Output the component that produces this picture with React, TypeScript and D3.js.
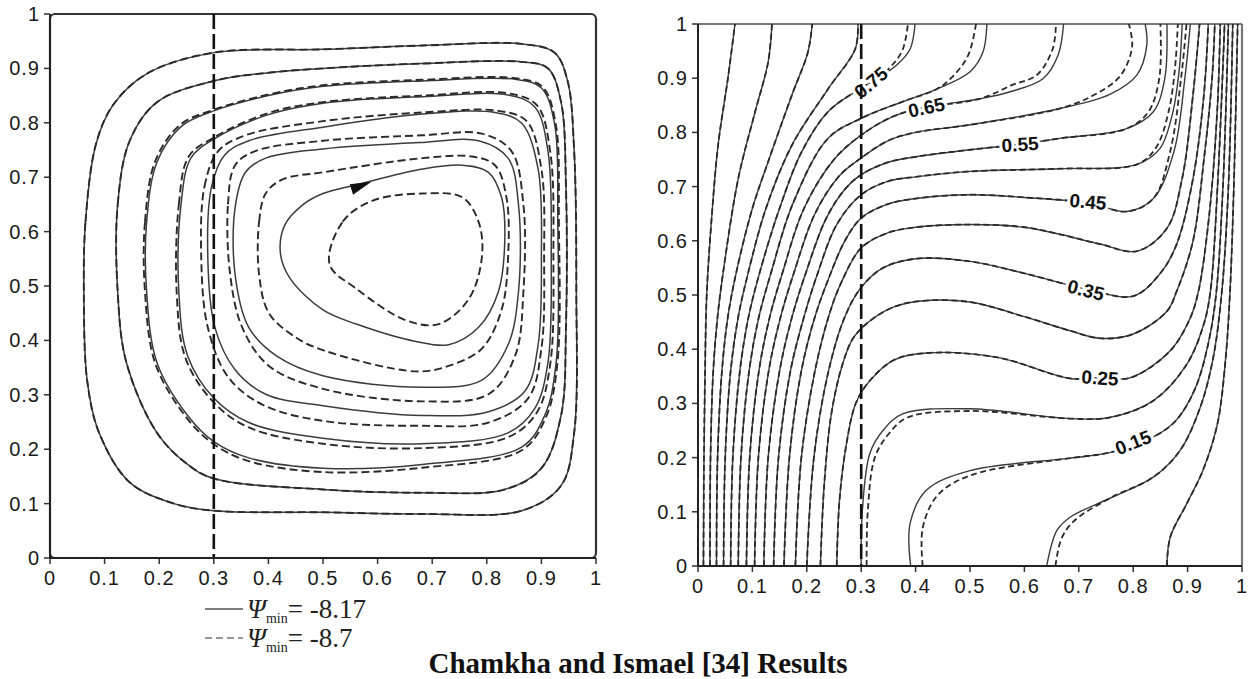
import React from 'react';
import * as d3 from 'd3';

type Pt = [number, number];

// ---------- left panel: streamlines (solid: Ψmin -8.17, dashed: Ψmin -8.7) ----------
const psi1: Pt[] = [[0.062,0.489],[0.065,0.618],[0.084,0.76],[0.115,0.832],[0.177,0.89],[0.3,0.929],[0.5,0.935],[0.682,0.942],[0.864,0.945],[0.924,0.929],[0.948,0.877],[0.96,0.748],[0.964,0.489],[0.96,0.23],[0.936,0.133],[0.864,0.087],[0.682,0.081],[0.5,0.084],[0.3,0.087],[0.227,0.1],[0.146,0.139],[0.09,0.23],[0.068,0.327]];
const psi2: Pt[] = [[0.124,0.489],[0.124,0.65],[0.146,0.767],[0.196,0.838],[0.3,0.877],[0.4,0.892],[0.5,0.9],[0.682,0.909],[0.864,0.912],[0.912,0.9],[0.936,0.838],[0.945,0.683],[0.945,0.424],[0.936,0.262],[0.9,0.165],[0.833,0.126],[0.682,0.12],[0.5,0.126],[0.3,0.146],[0.252,0.172],[0.196,0.23],[0.14,0.359]];
const psi3: Pt[] = [[0.177,0.489],[0.177,0.618],[0.196,0.728],[0.24,0.793],[0.3,0.822],[0.4,0.85],[0.5,0.867],[0.682,0.877],[0.852,0.88],[0.9,0.864],[0.924,0.799],[0.93,0.618],[0.927,0.359],[0.906,0.262],[0.864,0.204],[0.682,0.172],[0.5,0.165],[0.364,0.184],[0.3,0.214],[0.252,0.262],[0.196,0.359]];
const psi4: Pt[] = [[0.236,0.489],[0.24,0.65],[0.258,0.735],[0.3,0.77],[0.4,0.815],[0.5,0.836],[0.682,0.848],[0.839,0.851],[0.888,0.829],[0.912,0.748],[0.918,0.554],[0.912,0.359],[0.888,0.275],[0.839,0.23],[0.682,0.21],[0.5,0.22],[0.364,0.249],[0.3,0.294],[0.252,0.372]];
const psi5: Pt[] = [[0.289,0.553],[0.296,0.683],[0.32,0.741],[0.364,0.767],[0.5,0.792],[0.682,0.816],[0.815,0.819],[0.864,0.799],[0.894,0.715],[0.9,0.554],[0.894,0.392],[0.87,0.307],[0.803,0.269],[0.682,0.262],[0.5,0.28],[0.395,0.301],[0.339,0.346],[0.302,0.424]];
const psi6: Pt[] = [[0.339,0.521],[0.339,0.644],[0.358,0.709],[0.395,0.735],[0.5,0.752],[0.682,0.764],[0.785,0.767],[0.839,0.735],[0.858,0.65],[0.858,0.489],[0.839,0.392],[0.791,0.327],[0.682,0.314],[0.5,0.335],[0.414,0.372],[0.364,0.424]];
const psi7: Pt[] = [[0.422,0.56],[0.43,0.612],[0.464,0.65],[0.5,0.67],[0.561,0.686],[0.682,0.715],[0.755,0.722],[0.803,0.709],[0.827,0.663],[0.833,0.586],[0.821,0.489],[0.785,0.424],[0.73,0.392],[0.67,0.398],[0.561,0.43],[0.5,0.456],[0.439,0.515]];

const psi3d: Pt[] = [[0.174,0.489],[0.174,0.618],[0.193,0.73],[0.238,0.796],[0.3,0.824],[0.4,0.852],[0.5,0.869],[0.682,0.879],[0.852,0.882],[0.902,0.866],[0.926,0.799],[0.932,0.618],[0.929,0.355],[0.908,0.258],[0.864,0.198],[0.682,0.166],[0.5,0.158],[0.364,0.178],[0.3,0.209],[0.25,0.258],[0.193,0.357]];
const psi4d: Pt[] = [[0.232,0.489],[0.236,0.65],[0.254,0.738],[0.3,0.773],[0.4,0.818],[0.5,0.838],[0.682,0.85],[0.84,0.854],[0.892,0.832],[0.916,0.748],[0.922,0.554],[0.916,0.355],[0.892,0.268],[0.839,0.222],[0.682,0.202],[0.5,0.21],[0.364,0.24],[0.298,0.288],[0.248,0.368]];
const psi5d: Pt[] = [[0.277,0.553],[0.283,0.683],[0.308,0.748],[0.358,0.777],[0.5,0.803],[0.682,0.819],[0.821,0.822],[0.873,0.803],[0.9,0.715],[0.905,0.553],[0.9,0.385],[0.876,0.294],[0.803,0.249],[0.682,0.243],[0.5,0.252],[0.389,0.282],[0.326,0.333],[0.289,0.424]];
const psi6d: Pt[] = [[0.33,0.521],[0.326,0.65],[0.339,0.722],[0.376,0.748],[0.5,0.767],[0.682,0.777],[0.791,0.78],[0.845,0.748],[0.867,0.65],[0.867,0.489],[0.852,0.372],[0.803,0.301],[0.682,0.288],[0.5,0.311],[0.401,0.353],[0.352,0.424]];
const psi7d: Pt[] = [[0.383,0.521],[0.383,0.618],[0.395,0.67],[0.426,0.696],[0.5,0.709],[0.682,0.735],[0.773,0.738],[0.815,0.722],[0.836,0.663],[0.839,0.553],[0.827,0.456],[0.791,0.385],[0.73,0.353],[0.67,0.343],[0.5,0.382],[0.451,0.405],[0.401,0.45]];
const psi8d: Pt[] = [[0.512,0.54],[0.536,0.618],[0.591,0.657],[0.682,0.67],[0.755,0.663],[0.785,0.618],[0.791,0.553],[0.767,0.476],[0.712,0.43],[0.652,0.437],[0.561,0.495]];

const streamSolid = [psi1, psi2, psi3, psi4, psi5, psi6, psi7];
const streamDashed = [psi1, psi2, psi3d, psi4d, psi5d, psi6d, psi7d, psi8d];
const flowArrowAt: Pt = [0.549, 0.687];

// ---------- right panel: isotherms 0.95 ... 0.05 ----------
const t95: Pt[] = [[0.01,0],[0.011,0.2],[0.013,0.36],[0.016,0.5],[0.026,0.654],[0.037,0.777],[0.055,0.9],[0.068,1]];
const t90: Pt[] = [[0.022,0],[0.023,0.2],[0.028,0.36],[0.036,0.46],[0.046,0.54],[0.074,0.715],[0.105,0.838],[0.129,0.93],[0.136,1]];
const t85: Pt[] = [[0.034,0],[0.036,0.2],[0.044,0.36],[0.055,0.46],[0.07,0.54],[0.1,0.66],[0.129,0.746],[0.173,0.87],[0.202,0.948],[0.21,1]];
const t80: Pt[] = [[0.047,0],[0.05,0.2],[0.06,0.36],[0.074,0.46],[0.092,0.54],[0.125,0.66],[0.173,0.777],[0.239,0.88],[0.289,0.954],[0.294,1]];
const t75: Pt[] = [[0.06,0],[0.064,0.2],[0.077,0.36],[0.093,0.46],[0.113,0.54],[0.15,0.66],[0.191,0.765],[0.239,0.838],[0.289,0.875],[0.33,0.9],[0.366,0.925],[0.39,0.954],[0.399,1]];
const t70: Pt[] = [[0.074,0],[0.079,0.2],[0.094,0.36],[0.112,0.46],[0.134,0.54],[0.175,0.67],[0.239,0.789],[0.3,0.826],[0.377,0.857],[0.439,0.88],[0.5,0.912],[0.524,0.949],[0.531,1]];
const t65: Pt[] = [[0.089,0],[0.095,0.2],[0.112,0.36],[0.132,0.46],[0.155,0.54],[0.195,0.66],[0.25,0.75],[0.3,0.795],[0.36,0.83],[0.417,0.846],[0.518,0.862],[0.574,0.875],[0.634,0.899],[0.662,0.943],[0.672,1]];
const t60: Pt[] = [[0.104,0],[0.111,0.2],[0.13,0.36],[0.152,0.46],[0.176,0.54],[0.215,0.65],[0.26,0.72],[0.3,0.753],[0.35,0.785],[0.4,0.8],[0.5,0.814],[0.665,0.844],[0.757,0.87],[0.807,0.906],[0.825,0.961],[0.822,1]];
const t55: Pt[] = [[0.121,0],[0.129,0.2],[0.15,0.36],[0.173,0.46],[0.198,0.54],[0.235,0.64],[0.27,0.695],[0.3,0.722],[0.35,0.745],[0.4,0.755],[0.5,0.768],[0.592,0.778],[0.665,0.789],[0.788,0.807],[0.837,0.838],[0.858,0.899],[0.862,1]];
const t50: Pt[] = [[0.139,0],[0.148,0.2],[0.17,0.36],[0.195,0.46],[0.22,0.54],[0.255,0.63],[0.3,0.685],[0.35,0.71],[0.4,0.718],[0.5,0.728],[0.665,0.733],[0.807,0.741],[0.849,0.77],[0.873,0.838],[0.885,0.92],[0.89,1]];
const t45: Pt[] = [[0.158,0],[0.168,0.2],[0.19,0.36],[0.215,0.46],[0.24,0.53],[0.27,0.6],[0.3,0.642],[0.35,0.668],[0.4,0.678],[0.5,0.685],[0.6,0.68],[0.717,0.67],[0.788,0.654],[0.837,0.678],[0.875,0.765],[0.895,0.9],[0.905,1]];
const t40: Pt[] = [[0.179,0],[0.19,0.2],[0.215,0.36],[0.24,0.46],[0.262,0.52],[0.3,0.587],[0.35,0.615],[0.4,0.625],[0.5,0.63],[0.6,0.625],[0.665,0.612],[0.739,0.594],[0.807,0.581],[0.862,0.623],[0.89,0.715],[0.91,0.87],[0.922,1]];
const t35: Pt[] = [[0.2,0],[0.213,0.2],[0.24,0.36],[0.27,0.46],[0.3,0.514],[0.34,0.55],[0.4,0.567],[0.5,0.562],[0.6,0.54],[0.713,0.511],[0.8,0.498],[0.849,0.539],[0.88,0.594],[0.91,0.715],[0.93,0.87],[0.938,1]];
const t30: Pt[] = [[0.225,0],[0.232,0.15],[0.245,0.28],[0.265,0.37],[0.285,0.42],[0.316,0.452],[0.36,0.478],[0.41,0.489],[0.5,0.487],[0.6,0.46],[0.684,0.434],[0.74,0.42],[0.8,0.428],[0.862,0.47],[0.88,0.507],[0.91,0.6],[0.93,0.75],[0.945,0.9],[0.95,1]];
const t25: Pt[] = [[0.255,0],[0.26,0.12],[0.272,0.22],[0.29,0.3],[0.316,0.342],[0.36,0.38],[0.42,0.393],[0.55,0.385],[0.684,0.346],[0.739,0.347],[0.794,0.347],[0.868,0.397],[0.905,0.458],[0.92,0.507],[0.94,0.65],[0.955,0.85],[0.96,1]];
const t20: Pt[] = [[0.3,0],[0.302,0.1],[0.316,0.208],[0.34,0.25],[0.377,0.281],[0.5,0.29],[0.684,0.272],[0.757,0.274],[0.837,0.305],[0.899,0.373],[0.93,0.447],[0.942,0.507],[0.955,0.7],[0.968,1]];
const t15: Pt[] = [[0.391,0],[0.39,0.079],[0.42,0.14],[0.5,0.176],[0.684,0.199],[0.76,0.21],[0.844,0.242],[0.88,0.27],[0.915,0.33],[0.94,0.42],[0.953,0.507],[0.965,0.7],[0.975,1]];
const t10: Pt[] = [[0.641,0],[0.66,0.066],[0.684,0.09],[0.757,0.125],[0.837,0.164],[0.886,0.213],[0.923,0.292],[0.947,0.384],[0.963,0.507],[0.975,0.7],[0.983,1]];
const t05: Pt[] = [[0.862,0],[0.868,0.053],[0.899,0.116],[0.928,0.176],[0.955,0.263],[0.97,0.384],[0.978,0.507],[0.985,0.7],[0.992,1]];

// dashed case, where it parts from the solid one
const t75d: Pt[] = [...t75.slice(0, 10), [0.355,0.922],[0.376,0.952],[0.386,1]];
const t70d: Pt[] = [...t70.slice(0, 10), [0.469,0.904],[0.497,0.943],[0.511,1]];
const t65d: Pt[] = [...t65.slice(0, 11), [0.579,0.888],[0.623,0.906],[0.652,0.954],[0.658,1]];
const t60d: Pt[] = [...t60.slice(0, 12), [0.726,0.868],[0.776,0.904],[0.798,0.958],[0.792,1]];
const t55d: Pt[] = [...t55.slice(0, 14), [0.828,0.838],[0.848,0.9],[0.85,1]];
const t50d: Pt[] = [...t50.slice(0, 12), [0.842,0.772],[0.865,0.838],[0.877,0.92],[0.882,1]];
const t45d: Pt[] = [...t45.slice(0, 14), [0.868,0.765],[0.888,0.9],[0.898,1]];
const t20d: Pt[] = [[0.31,0],[0.312,0.1],[0.325,0.2],[0.35,0.243],[0.385,0.274],[0.5,0.286],...t20.slice(6)];
const t15d: Pt[] = [[0.413,0],[0.413,0.07],[0.44,0.13],[0.5,0.167],...t15.slice(4)];
const t10d: Pt[] = [[0.657,0],[0.668,0.05],[0.69,0.082],...t10.slice(3)];

const isoSolid = [t95, t90, t85, t80, t75, t70, t65, t60, t55, t50, t45, t40, t35, t30, t25, t20, t15, t10, t05];
const isoDashed = [t95, t90, t85, t80, t75d, t70d, t65d, t60d, t55d, t50d, t45d, t40, t35, t30, t25, t20d, t15d, t10d, t05];

const isoLabels = ['0.75', '0.65', '0.55', '0.45', '0.35', '0.25', '0.15'];
const isoLabelAt: Pt[] = [[0.318,0.892],[0.42,0.846],[0.592,0.778],[0.717,0.672],[0.713,0.509],[0.739,0.347],[0.8,0.228]];
const isoLabelTilt = [-40, -12, -4, 5, 14, 4, -22];

const tickVals = [0, 0.1, 0.2, 0.3, 0.4, 0.5, 0.6, 0.7, 0.8, 0.9, 1];
const tickText = ['0', '0.1', '0.2', '0.3', '0.4', '0.5', '0.6', '0.7', '0.8', '0.9', '1'];
const divider = 0.3;
const legendText = ['-8.17', '-8.7'];

const W = 1253;
const H = 679;
const sansFont = 'Liberation Sans, Arial, sans-serif';
const serifFont = 'Liberation Serif, Times New Roman, serif';

const Axes = ({x, y}: {x: d3.ScaleLinear<number, number>; y: d3.ScaleLinear<number, number>}) => {
  const [x0, x1] = x.range();
  const [y0] = y.range();
  return (
    <g fontFamily={sansFont} fontSize={20} fill="#1a1a1a" letterSpacing={1}>
      {tickVals.map((v, i) => (
        <g key={'y' + i}>
          <line x1={x0 - 6} x2={x0} y1={y(v)} y2={y(v)} stroke="#333" strokeWidth={1.5} />
          <text x={x0 - 10} y={y(v) + 7} textAnchor="end">{tickText[i]}</text>
        </g>
      ))}
      {tickVals.map((v, i) => (
        <g key={'x' + i}>
          <line x1={x(v)} x2={x(v)} y1={y0} y2={y0 + 6} stroke="#333" strokeWidth={1.5} />
          <text x={x(v)} y={y0 + 27} textAnchor="middle">{tickText[i]}</text>
        </g>
      ))}
      <line x1={x0} x2={x0} y1={y(1)} y2={y0} stroke="#222" strokeWidth={2} />
      <line x1={x0} x2={x1} y1={y0} y2={y0} stroke="#222" strokeWidth={2} />
    </g>
  );
};

export default function App() {
  const xL = d3.scaleLinear().domain([0, 1]).range([50, 596]);
  const yL = d3.scaleLinear().domain([0, 1]).range([558, 14]);
  const xR = d3.scaleLinear().domain([0, 1]).range([698, 1242]);
  const yR = d3.scaleLinear().domain([0, 1]).range([566, 24]);

  const streamLine = d3.line<Pt>().x(d => xL(d[0])).y(d => yL(d[1])).curve(d3.curveCatmullRomClosed.alpha(0.5));
  const isoLine = d3.line<Pt>().x(d => xR(d[0])).y(d => yR(d[1])).curve(d3.curveCatmullRom.alpha(0.5));

  const ax = xL(flowArrowAt[0]);
  const ay = yL(flowArrowAt[1]);

  return (
    <div style={{position: 'absolute', left: 0, top: 0}}>
      <svg width={W} height={H} style={{display: 'block', background: '#fff'}}>
        <defs>
          <clipPath id="clipL"><rect x={xL(0)} y={yL(1)} width={xL(1) - xL(0)} height={yL(0) - yL(1)} /></clipPath>
          <clipPath id="clipR"><rect x={xR(0)} y={yR(1)} width={xR(1) - xR(0)} height={yR(0) - yR(1)} /></clipPath>
        </defs>

        {/* left panel */}
        <rect x={xL(0)} y={yL(1)} width={xL(1) - xL(0)} height={yL(0) - yL(1)} fill="none" stroke="#333" strokeWidth={2.2} rx={5} />
        <g clipPath="url(#clipL)" fill="none">
          {streamSolid.map((c, i) => (
            <path key={'s' + i} d={streamLine(c) || ''} stroke="#3c3c3c" strokeWidth={1.5} />
          ))}
          {streamDashed.map((c, i) => (
            <path key={'d' + i} d={streamLine(c) || ''} stroke="#2a2a2a" strokeWidth={1.9} strokeDasharray="8 4" />
          ))}
        </g>
        <path d={`M${ax},${ay} L${ax + 21.7},${ay - 2.5} L${ax + 3.3},${ay + 10.5} Z`} fill="#111" />
        <line x1={xL(divider)} x2={xL(divider)} y1={yL(1)} y2={yL(0)} stroke="#111" strokeWidth={2.6} strokeDasharray="15 5" />
        <Axes x={xL} y={yL} />

        {/* right panel */}
        <line x1={xR(0)} x2={xR(1)} y1={yR(1)} y2={yR(1)} stroke="#777" strokeWidth={2.2} />
        <line x1={xR(1)} x2={xR(1)} y1={yR(1)} y2={yR(0)} stroke="#777" strokeWidth={2.2} />
        <g clipPath="url(#clipR)" fill="none">
          {isoSolid.map((c, i) => (
            <path key={'s' + i} d={isoLine(c) || ''} stroke="#3c3c3c" strokeWidth={1.4} />
          ))}
          {isoDashed.map((c, i) => (
            <path key={'d' + i} d={isoLine(c) || ''} stroke="#2a2a2a" strokeWidth={1.8} strokeDasharray="6 3.5" />
          ))}
        </g>
        <g fontFamily={sansFont} fontWeight="bold" fontSize={19} fill="#111">
          {isoLabels.map((t, i) => (
            <text key={t} transform={`translate(${xR(isoLabelAt[i][0])},${yR(isoLabelAt[i][1])}) rotate(${isoLabelTilt[i]})`}
              textAnchor="middle" dy="0.35em" stroke="#fff" strokeWidth={6} paintOrder="stroke" strokeLinejoin="round">{t}</text>
          ))}
        </g>
        <line x1={xR(divider)} x2={xR(divider)} y1={yR(1)} y2={yR(0)} stroke="#111" strokeWidth={2.6} strokeDasharray="15 5" />
        <Axes x={xR} y={yR} />

        {/* legend */}
        {legendText.map((t, i) => (
          <g key={t}>
            <line x1={205} x2={243} y1={609 + i * 29} y2={609 + i * 29} stroke={i === 0 ? '#555' : '#777'} strokeWidth={1.6}
              strokeDasharray={i === 0 ? undefined : '7 4'} />
            <text x={247} y={618 + i * 29} fontFamily={serifFont} fontSize={27} fill="#222">
              <tspan fontStyle="italic">Ψ</tspan>
              <tspan fontSize={14} dy={5}>min</tspan>
              <tspan dy={-5}>= {t}</tspan>
            </text>
          </g>
        ))}

        <text x={638} y={673} textAnchor="middle" fontFamily={serifFont} fontWeight="bold" fontSize={29} fill="#111">
          Chamkha and Ismael [34] Results
        </text>
      </svg>
    </div>
  );
}
